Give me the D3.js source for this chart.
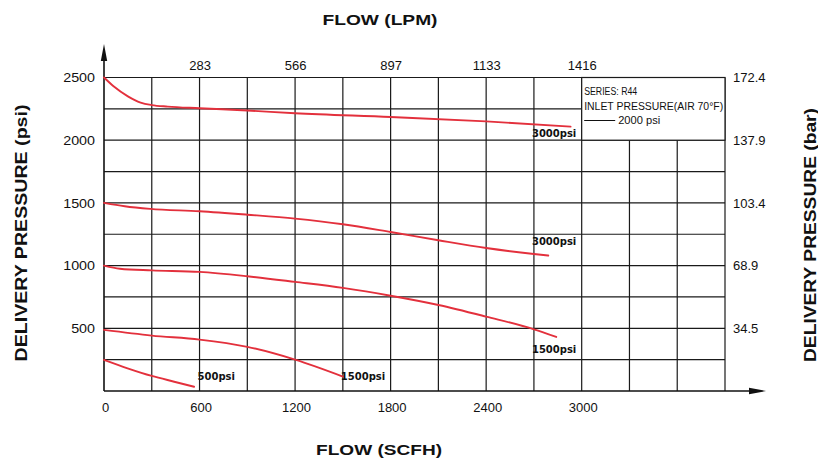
<!DOCTYPE html>
<html>
<head>
<meta charset="utf-8">
<script src="https://cdn.jsdelivr.net/npm/d3@7"></script>
<style>
  html, body { margin: 0; padding: 0; background: #fff; }
  svg { display: block; }
</style>
</head>
<body>
<svg id="chart" width="818" height="462"></svg>
<script>
// ---- data (flow in SCFH, delivery pressure in psi) ----
const scfhTicks = [0, 600, 1200, 1800, 2400, 3000];
const lpmTickPositions = [600, 1200, 1800, 2400, 3000];
const lpmTickLabels = ["283", "566", "897", "1133", "1416"];
const psiTicks = [500, 1000, 1500, 2000, 2500];
const barTickLabels = ["34.5", "68.9", "103.4", "137.9", "172.4"];

const flowA = [0, 60, 150, 230, 300, 400, 600, 900, 1200, 1800, 2400, 2930];
const psiA  = [2500, 2430, 2350, 2300, 2280, 2268, 2255, 2237, 2215, 2185, 2150, 2108];

const flowB = [0, 130, 290, 600, 900, 1200, 1500, 1800, 2100, 2400, 2700, 2790];
const psiB  = [1500, 1473, 1452, 1433, 1406, 1375, 1330, 1268, 1202, 1140, 1092, 1080];

const flowC = [0, 100, 300, 600, 900, 1200, 1500, 1800, 2100, 2400, 2700, 2840];
const psiC  = [1000, 975, 962, 950, 915, 870, 822, 760, 686, 593, 492, 431];

const flowD = [0, 300, 600, 900, 1200, 1500];
const psiD  = [487, 442, 410, 352, 250, 115];

const flowE = [0, 148, 300, 441, 566];
const psiE  = [248, 181, 120, 74, 34];

const curveLabels = ["3000psi", "3000psi", "1500psi", "1500psi", "500psi"];
const legendLines = ["SERIES: R44", "INLET PRESSURE(AIR 70\u00B0F)", "2000 psi"];

// ---- layout ----
const svg = d3.select("#chart");
const x = d3.scaleLinear().domain([0, 3900]).range([104, 725]);
const y = d3.scaleLinear().domain([0, 2500]).range([391, 77.5]);
const SANS = "'Liberation Sans', Arial, sans-serif";

function stretch(sel, len) {
  sel.attr("textLength", len).attr("lengthAdjust", "spacingAndGlyphs");
}

// grid
const grid = svg.append("g").attr("stroke", "#1a1a1a").attr("stroke-width", 1.2);
grid.selectAll("line.v").data(d3.range(300, 3901, 300)).join("line").attr("class", "v")
  .attr("x1", d => x(d)).attr("x2", d => x(d))
  .attr("y1", y(0)).attr("y2", y(2500));
grid.selectAll("line.h").data(d3.range(250, 2501, 250)).join("line").attr("class", "h")
  .attr("x1", x(0)).attr("x2", x(3900))
  .attr("y1", d => y(d)).attr("y2", d => y(d));

// legend box (covers grid)
svg.append("rect")
  .attr("x", x(3000)).attr("y", y(2500))
  .attr("width", x(3900) - x(3000)).attr("height", y(2000) - y(2500))
  .attr("fill", "#fff").attr("stroke", "#1a1a1a").attr("stroke-width", 1.2);

// axes lines with arrows
svg.append("line").attr("x1", x(0)).attr("x2", x(0)).attr("y1", y(0)).attr("y2", 50)
  .attr("stroke", "#111").attr("stroke-width", 1.6);
svg.append("path").attr("d", `M${x(0)},44 L${x(0) - 3.2},61 L${x(0) + 3.2},61 Z`).attr("fill", "#111");
svg.append("line").attr("x1", x(0)).attr("x2", 760).attr("y1", y(0)).attr("y2", y(0))
  .attr("stroke", "#111").attr("stroke-width", 1.6);
svg.append("path").attr("d", `M766,${y(0)} L749,${y(0) - 3.2} L749,${y(0) + 3.2} Z`).attr("fill", "#111");

// axes (labels only)
const axLeft = svg.append("g").attr("transform", `translate(${x(0)},0)`)
  .call(d3.axisLeft(y).tickValues(psiTicks).tickSize(0).tickPadding(9).tickFormat(d3.format("d")));
const axRight = svg.append("g").attr("transform", `translate(${x(3900)},0)`)
  .call(d3.axisRight(y).tickValues(psiTicks).tickSize(0).tickPadding(8)
    .tickFormat((d, i) => barTickLabels[i]));
const axBottom = svg.append("g").attr("transform", `translate(1,${y(0)})`)
  .call(d3.axisBottom(x).tickValues(scfhTicks).tickSize(0).tickPadding(12).tickFormat(d3.format("d")));
const axTop = svg.append("g").attr("transform", `translate(0,${y(2500)})`)
  .call(d3.axisTop(x).tickValues(lpmTickPositions).tickSize(0).tickPadding(8)
    .tickFormat((d, i) => lpmTickLabels[i]));
[axLeft, axRight, axBottom, axTop].forEach(g => {
  g.select(".domain").remove();
  g.selectAll("text").attr("font-size", "13px").style("font-family", SANS).attr("fill", "#111");
});
axLeft.selectAll("text").each(function () {
  const len = this.getComputedTextLength();
  stretch(d3.select(this), len * 1.1);
});

// curves
const line = d3.line().x(d => x(d[0])).y(d => y(d[1])).curve(d3.curveMonotoneX);
const series = [[flowA, psiA], [flowB, psiB], [flowC, psiC], [flowD, psiD], [flowE, psiE]];
svg.append("g").selectAll("path").data(series).join("path")
  .attr("d", s => line(s[0].map((f, i) => [f, s[1][i]])))
  .attr("fill", "none").attr("stroke", "#e3303c").attr("stroke-width", 1.9)
  .attr("stroke-linecap", "round");

// curve labels
const labelPos = [[2700, 2028], [2700, 1163], [2700, 303], [1500, 84], [600, 84]];
svg.append("g").selectAll("text").data(curveLabels).join("text")
  .attr("x", (d, i) => x(labelPos[i][0]) - 2)
  .attr("y", (d, i) => y(labelPos[i][1]))
  .style("font-family", "'DejaVu Sans', Verdana, sans-serif")
  .attr("font-weight", "bold").attr("font-size", "10px").attr("fill", "#111")
  .text(d => d);

// legend text
const lx = x(3000) + 2.5;
function legendText(t, yy, xx, len) {
  svg.append("text").attr("x", xx).attr("y", yy).attr("font-size", "10px")
    .style("font-family", SANS).attr("fill", "#111").text(t).call(stretch, len);
}
legendText(legendLines[0], 95, lx, 53);
legendText(legendLines[1], 110, lx, 139);
svg.append("line").attr("x1", lx).attr("x2", lx + 31).attr("y1", 120.5).attr("y2", 120.5)
  .attr("stroke", "#111").attr("stroke-width", 1);
legendText(legendLines[2], 124, lx + 34, 42);

// titles
function title(t, tr, len) {
  svg.append("text").attr("transform", tr).attr("text-anchor", "middle")
    .style("font-family", SANS).attr("font-weight", "bold").attr("fill", "#111")
    .attr("font-size", tr.includes("rotate") ? "16px" : "15px").text(t).call(stretch, len);
}
title("FLOW (LPM)", "translate(380,25)", 115);
title("FLOW (SCFH)", "translate(379,455)", 126);
title("DELIVERY PRESSURE (psi)", "translate(27,233) rotate(-90)", 257);
title("DELIVERY PRESSURE (bar)", "translate(816,235) rotate(-90)", 254);
</script>
</body>
</html>
